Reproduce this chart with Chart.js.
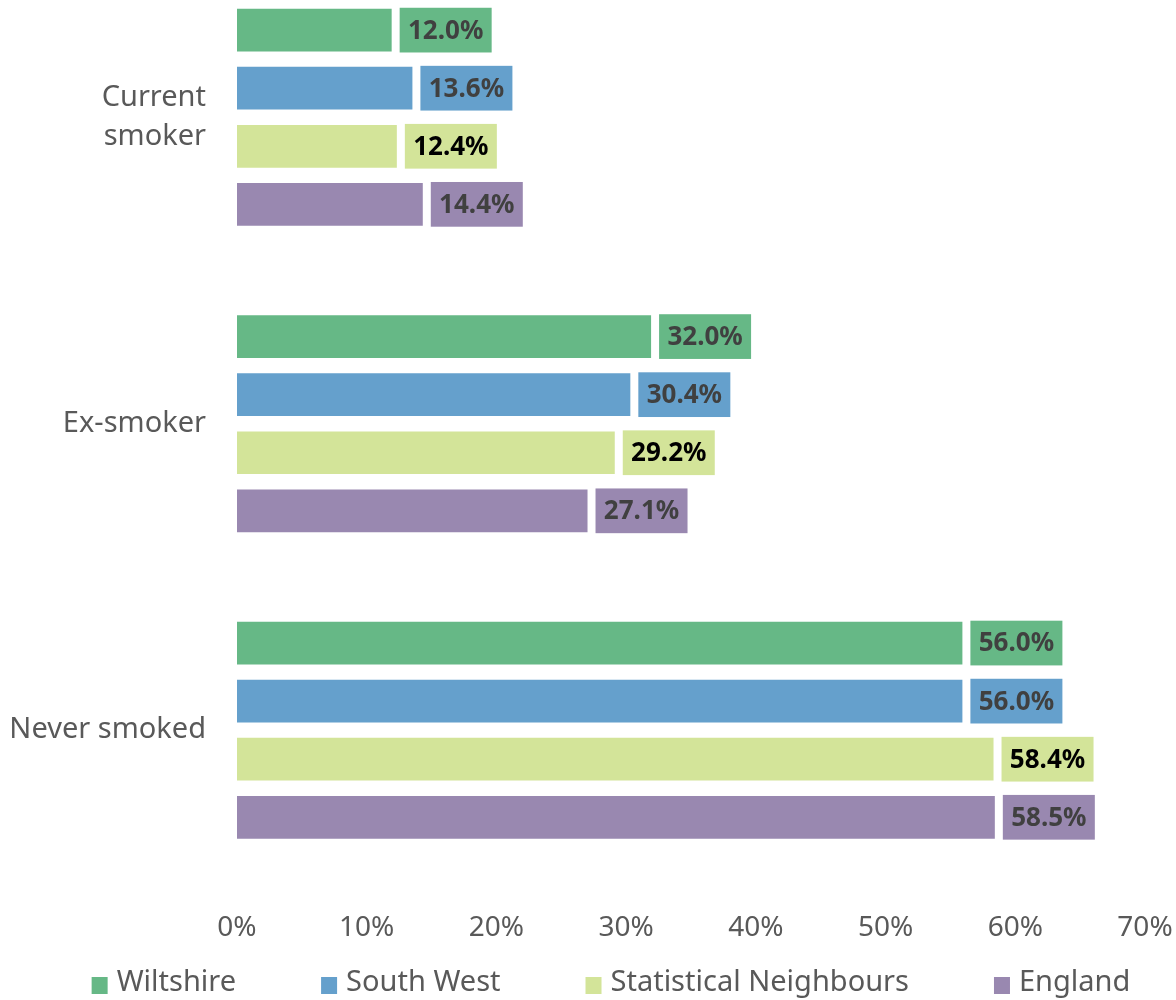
<!DOCTYPE html>
<html lang="en">
<head>
    <meta charset="UTF-8">
    <title>Smoking status</title>
    <style>
        html, body {
            margin: 0;
            padding: 0;
            background: #ffffff;
            overflow: hidden;
        }
        #wrap {
            position: absolute;
            left: 0;
            top: -36px; /* plot area starts above the visible page, as in the original */
            width: 1176px;
            height: 1036px;
        }
    </style>
    <script src="https://cdn.jsdelivr.net/npm/chart.js"></script>
</head>
<body>
    <div id="wrap"><canvas id="smokingChart"></canvas></div>

    <script>
        const categories = [['Current', 'smoker'], 'Ex-smoker', 'Never smoked'];
        const seriesNames = ['Wiltshire', 'South West', 'Statistical Neighbours', 'England'];
        const wiltshire = [12.0, 32.0, 56.0];
        const southWest = [13.6, 30.4, 56.0];
        const statNeighbours = [12.4, 29.2, 58.4];
        const england = [14.4, 27.1, 58.5];
        const xTicks = [0, 10, 20, 30, 40, 50, 60, 70];

        const colours = ['#66b886', '#65a0cc', '#d3e499', '#9988b0'];
        const labelColours = ['#404040', '#404040', '#000000', '#404040'];
        const FONT = "'Noto Sans', sans-serif";

        // value boxes drawn just past the end of each bar
        const valueBoxes = {
            id: 'valueBoxes',
            afterDatasetsDraw(chart) {
                const ctx = chart.ctx;
                ctx.save();
                ctx.font = "bold 26px " + FONT;
                ctx.textAlign = 'center';
                ctx.textBaseline = 'middle';
                chart.data.datasets.forEach((ds, i) => {
                    const meta = chart.getDatasetMeta(i);
                    meta.data.forEach((bar, j) => {
                        const h = bar.height;
                        const left = bar.x + 7;
                        ctx.fillStyle = colours[i];
                        ctx.fillRect(left, bar.y - h / 2, 92, h);
                        ctx.fillStyle = labelColours[i];
                        ctx.fillText(ds.data[j].toFixed(1) + '%', left + 46, bar.y + 1);
                    });
                });
                ctx.restore();
            }
        };

        // legend on one row with wide gaps, like the original
        const bottomLegend = {
            id: 'bottomLegend',
            afterDraw(chart) {
                const ctx = chart.ctx;
                ctx.save();
                ctx.font = "29px " + FONT;
                ctx.textBaseline = 'middle';
                const gap = 85;
                const widths = chart.data.datasets.map(ds => 25 + ctx.measureText(ds.label).width);
                const total = widths.reduce((a, b) => a + b, 0) + gap * (widths.length - 1);
                let x = 611 - total / 2;
                const y = chart.height - 17;
                chart.data.datasets.forEach((ds, i) => {
                    ctx.fillStyle = ds.backgroundColor;
                    ctx.fillRect(x, y - 6, 16, 17);
                    ctx.fillStyle = '#595959';
                    ctx.fillText(ds.label, x + 25, y);
                    x += widths[i] + gap;
                });
                ctx.restore();
            }
        };

        const seriesData = [wiltshire, southWest, statNeighbours, england];

        // stop the axes from reserving extra room for their end labels
        function noEdgePadding(scale) {
            scale.paddingTop = 0;
            scale.paddingBottom = 0;
            scale.paddingLeft = 0;
            scale.paddingRight = 0;
        }

        new Chart(document.getElementById('smokingChart'), {
            type: 'bar',
            data: {
                labels: categories,
                datasets: seriesNames.map((name, i) => ({
                    label: name,
                    data: seriesData[i],
                    backgroundColor: colours[i],
                    borderColor: 'rgba(255,255,255,0.3)',
                    borderWidth: 1,
                    categoryPercentage: 0.758,
                    barPercentage: 0.77
                }))
            },
            options: {
                indexAxis: 'y',
                responsive: true,
                maintainAspectRatio: false,
                animation: false,
                layout: {
                    padding: { left: 0, right: 31, top: 0, bottom: 27 }
                },
                scales: {
                    x: {
                        min: 0,
                        max: 70,
                        afterBuildTicks(scale) {
                            scale.ticks = xTicks.map(v => ({ value: v }));
                        },
                        afterFit: noEdgePadding,
                        grid: { display: false, drawTicks: false },
                        border: { display: false },
                        ticks: {
                            padding: 28,
                            color: '#595959',
                            font: { family: FONT, size: 28 },
                            callback: v => v + '%'
                        }
                    },
                    y: {
                        afterFit(scale) {
                            noEdgePadding(scale);
                            scale.width = 237;
                        },
                        grid: { display: false, drawTicks: false },
                        border: { display: false },
                        ticks: {
                            padding: 31,
                            color: '#595959',
                            font: { family: FONT, size: 29, lineHeight: 1.34 }
                        }
                    }
                },
                plugins: {
                    legend: { display: false },
                    tooltip: { enabled: false }
                }
            },
            plugins: [valueBoxes, bottomLegend]
        });
    </script>
</body>
</html>
